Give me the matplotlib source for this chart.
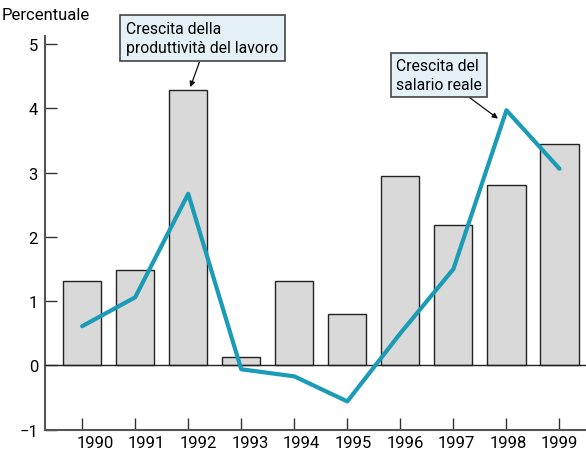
import matplotlib.pyplot as plt
import matplotlib.transforms as mtransforms
import numpy as np

years = ["1990", "1991", "1992", "1993", "1994", "1995", "1996", "1997", "1998", "1999"]
produttivita = [1.31, 1.48, 4.28, 0.13, 1.31, 0.80, 2.95, 2.19, 2.80, 3.44]
salario = [0.61, 1.06, 2.67, -0.06, -0.17, -0.56, 0.50, 1.50, 3.97, 3.06]
yticks = [-1, 0, 1, 2, 3, 4, 5]

plt.rcParams['font.family'] = ['Roboto', 'DejaVu Sans']
plt.rcParams['font.size'] = 12

LINE_COLOR = "#1a9bb6"
BOX_COLOR = "#e4f2f8"

fig = plt.figure(figsize=(5.86, 4.56), dpi=100)
ax = fig.add_axes([45 / 586, 25.3 / 456, 1 - 45 / 586, (430.7 - 36.7) / 456])

x = np.arange(len(years))
ax.bar(x, produttivita, width=0.72, color="#d9d9d9", edgecolor="#222222", linewidth=1, zorder=2)
ax.axhline(0, color="#222222", linewidth=1, zorder=3)
ax.plot(x, salario, color=LINE_COLOR, linewidth=3, solid_capstyle="round", zorder=4)

ax.set_xlim(-0.70, 9.5)
ax.set_ylim(-1, 5.13)
ax.set_yticks(yticks)
ax.set_yticklabels([str(v).replace("-", "\u2212") for v in yticks])
ax.set_xticks(x)
ax.set_xticklabels(years)

ax.tick_params(axis="both", direction="in", length=8.6, width=1, color="#333333", labelsize=12)
ax.tick_params(axis="y", pad=5)
ax.tick_params(axis="x", pad=4)

# etichette anni spostate verso destra (meno a destra man mano)
for i, lab in enumerate(ax.get_xticklabels()):
    dx = (13 - 1.42 * i) / 100
    lab.set_transform(lab.get_transform() + mtransforms.ScaledTranslation(dx, 0, fig.dpi_scale_trans))

for side in ["top", "right"]:
    ax.spines[side].set_visible(False)
for side in ["left", "bottom"]:
    ax.spines[side].set_color("#555555")
    ax.spines[side].set_linewidth(1.5)

fig.text(2 / 586, 1 - 15 / 456, "Percentuale", ha="left", va="center", fontsize=12)

box1 = dict(boxstyle="square,pad=0.4", facecolor=BOX_COLOR, edgecolor="#444444", linewidth=1.2)
box2 = dict(boxstyle="square,pad=0.35", facecolor=BOX_COLOR, edgecolor="#444444", linewidth=1.2)
arrow1 = dict(arrowstyle="-|>", color="#111111", lw=0.9, mutation_scale=8, shrinkA=0, shrinkB=0,
              relpos=(0.5, 0))
arrow2 = dict(arrowstyle="-|>", color="#111111", lw=0.9, mutation_scale=8, shrinkA=0, shrinkB=0)

ax.annotate("Crescita della\nproduttività del lavoro", xy=(2.04, 4.33), xycoords="data",
            xytext=(126, 456 - 22), textcoords="figure pixels", ha="left", va="top",
            bbox=box1, arrowprops=arrow1, linespacing=1.3, fontsize=11.3, zorder=5)
ax.annotate("Crescita del\nsalario reale", xy=(7.84, 3.84), xycoords="data",
            xytext=(396, 456 - 59), textcoords="figure pixels", ha="left", va="top",
            bbox=box2, arrowprops=arrow2, linespacing=1.3, fontsize=11.3, zorder=5)

fig.savefig("out.png", dpi=100)
